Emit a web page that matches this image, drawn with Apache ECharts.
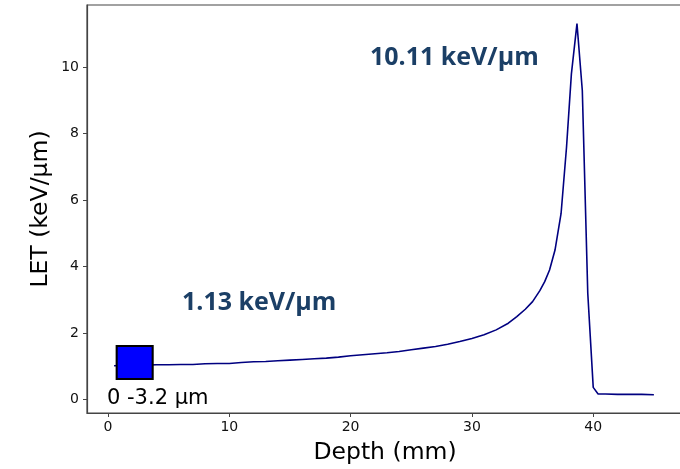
<!DOCTYPE html>
<html>
<head>
<meta charset="utf-8">
<script src="https://cdn.jsdelivr.net/npm/echarts@6/dist/echarts.min.js"></script>
<style>
html,body{margin:0;padding:0;background:#fff;}
#chart{width:680px;height:469px;}
</style>
</head>
<body>
<div id="chart"></div>
<script>
// Depth (mm)
var depth = [0.5, 1, 2, 3, 4, 5, 6, 7, 8, 9, 10, 11, 12, 13, 14, 15, 16, 17, 18, 19, 20,
  21, 22, 23, 24, 25, 26, 27, 28, 29, 30, 31, 32, 33, 33.7, 34.4, 35, 35.6, 36, 36.4, 36.85,
  37.35, 37.8, 38.2, 38.66, 39.1, 39.55, 40.0, 40.4, 41, 42, 43, 44, 45];
// LET (keV/um)
var letValues = [1.02, 1.03, 1.03, 1.04, 1.05, 1.05, 1.06, 1.06, 1.08, 1.09, 1.09, 1.12, 1.14, 1.15, 1.17, 1.19, 1.21, 1.23, 1.25, 1.28, 1.32,
  1.35, 1.38, 1.41, 1.45, 1.50, 1.55, 1.60, 1.67, 1.75, 1.84, 1.95, 2.10, 2.30, 2.50, 2.72, 2.95, 3.28, 3.55, 3.90, 4.50,
  5.60, 7.60, 9.80, 11.31, 9.30, 3.20, 0.37, 0.17, 0.17, 0.16, 0.16, 0.16, 0.15];
var xTicks = [0, 10, 20, 30, 40];
var yTicks = [0, 2, 4, 6, 8, 10];
// highlighted region (0 - 3.2 um) marker
var boxPoint = [[2.2, 1.12]];

var chart = echarts.init(document.getElementById('chart'));
var lineData = depth.map(function (d, i) { return [d, letValues[i]]; });
var annColor = '#1b3f66';
chart.setOption({
  animation: false,
  backgroundColor: '#ffffff',
  grid: {left: 87, top: 5, width: 596, height: 408, show: true, borderColor: '#444', borderWidth: 1.2,
    containLabel: false, outerBoundsMode: 'none'},
  xAxis: {
    type: 'value', min: -1.73, max: 47.4,
    name: 'Depth (mm)', nameLocation: 'middle', nameGap: 28, nameMoveOverlap: false,
    nameTextStyle: {fontFamily: 'DejaVu Sans', fontSize: 23.5, color: '#000'},
    axisLine: {show: true, onZero: false, lineStyle: {color: '#444', width: 1.2}},
    axisTick: {show: true, inside: false, length: 4, lineStyle: {color: '#444'}, customValues: xTicks},
    axisLabel: {fontFamily: 'DejaVu Sans', fontSize: 14, color: '#111', margin: 7, customValues: xTicks},
    splitLine: {show: false}
  },
  yAxis: {
    type: 'value', min: -0.4, max: 11.87,
    name: 'LET (keV/µm)', nameLocation: 'middle', nameGap: 34, nameRotate: 90, nameMoveOverlap: false,
    nameTextStyle: {fontFamily: 'DejaVu Sans', fontSize: 23.5, color: '#000'},
    axisLine: {show: true, onZero: false, lineStyle: {color: '#444', width: 1.2}},
    axisTick: {show: true, inside: false, length: 4, lineStyle: {color: '#444'}, customValues: yTicks},
    axisLabel: {fontFamily: 'DejaVu Sans', fontSize: 14, color: '#111', margin: 8, customValues: yTicks},
    splitLine: {show: false}
  },
  series: [
    {
      type: 'line', data: lineData, showSymbol: false, symbol: 'none',
      lineStyle: {color: '#000080', width: 1.6}, z: 2
    },
    {
      type: 'scatter', data: boxPoint, symbol: 'rect', symbolSize: [36, 33],
      itemStyle: {color: '#0000ff', borderColor: '#000', borderWidth: 2, opacity: 1}, z: 5
    }
  ],
  graphic: [
    {type: 'text', left: 370, top: 45, style: {text: '10.11 keV/µm', font: 'bold 25px "Open Sans"', fill: annColor}},
    {type: 'text', left: 182, top: 290, style: {text: '1.13 keV/µm', font: 'bold 25px "Open Sans"', fill: annColor}},
    {type: 'text', left: 107, top: 388, style: {text: '0 -3.2 µm', font: '21px "DejaVu Sans"', fill: '#000'}}
  ]
});
</script>
</body>
</html>
